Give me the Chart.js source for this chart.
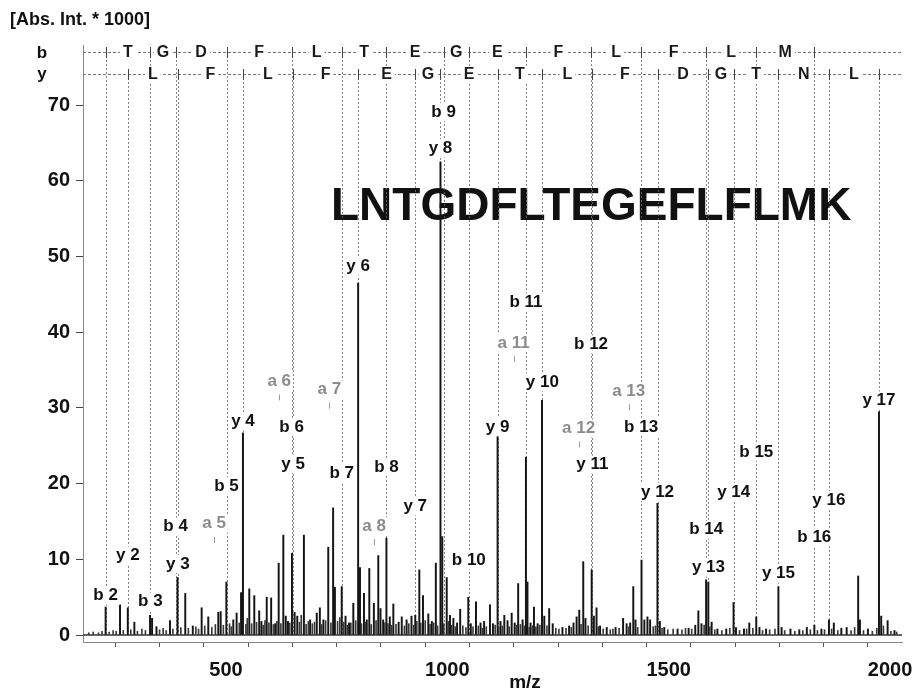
<!DOCTYPE html>
<html><head><meta charset="utf-8">
<script src="https://cdn.jsdelivr.net/npm/chart.js@4.4.1/dist/chart.umd.min.js"></script>
<style>html,body{margin:0;padding:0;background:#fff;}#wrap{width:916px;height:691px;}</style>
</head><body><div id="wrap"><canvas id="c" width="916" height="691"></canvas></div>
<script>
// ---------------- data ----------------
const peptide = 'LNTGDFLTEGEFLFLMK';
const yAxisTitle = '[Abs. Int. * 1000]';
const xAxisTitle = 'm/z';
const yTickValues = [0, 10, 20, 30, 40, 50, 60, 70];
const xTickValues = [200, 300, 400, 500, 600, 700, 800, 900, 1000, 1100, 1200, 1300, 1400, 1500, 1600, 1700, 1800, 1900, 2000];
const xTickLabels = [500, 1000, 1500, 2000];

const bIonNumbers = [2, 3, 4, 5, 6, 7, 8, 9, 10, 11, 12, 13, 14, 15, 16];
const bIonMz = [228.13, 329.18, 386.20, 501.23, 648.30, 761.38, 862.43, 991.47, 1048.49, 1177.54, 1324.61, 1437.69, 1584.76, 1697.84, 1828.88];
const bIonLabelAt = [5.2, 4.4, 14.3, 19.7, 27.5, 21.4, 22.2, 69.1, 9.9, 44.0, 38.4, 27.5, 13.9, 24.2, 12.9];
const bResidues = ['T', 'G', 'D', 'F', 'L', 'T', 'E', 'G', 'E', 'F', 'L', 'F', 'L', 'M'];

const yIonNumbers = [2, 3, 4, 5, 6, 7, 8, 9, 10, 11, 12, 13, 14, 15, 16, 17];
const yIonMz = [278.15, 391.23, 538.30, 651.39, 798.45, 927.50, 984.52, 1113.56, 1214.61, 1327.69, 1474.76, 1589.79, 1646.81, 1747.86, 1861.90, 1974.99];
const yIonLabelAt = [10.5, 9.4, 28.2, 22.6, 48.7, 17.0, 64.3, 27.5, 33.4, 22.5, 18.9, 8.9, 18.9, 8.1, 17.8, 31.0];
const yResidues = ['L', 'F', 'L', 'F', 'E', 'G', 'E', 'T', 'L', 'F', 'D', 'G', 'T', 'N', 'L'];

const aIonNumbers = [5, 6, 7, 8, 11, 12, 13];
const aIonMz = [473.24, 620.31, 733.39, 834.44, 1149.54, 1296.61, 1409.69];
const aIonLabelAt = [14.7, 33.5, 32.4, 14.4, 38.6, 27.3, 32.2];

const peakMz = [228.1, 260.6, 278.2, 293, 328.4, 333, 343, 373.5, 390.5, 408, 425, 445, 460, 482.6, 488, 500.8,
  516.5, 524, 534, 538.3, 552.6, 563.9, 575, 580, 592, 602, 611, 619, 629.5, 635, 640, 649, 655, 661, 676, 690,
  705, 712, 720, 731, 742, 746, 761.4, 770, 778, 787.6, 798.5, 802.7, 811.7, 818, 823.7, 834, 844, 849, 855,
  862.4, 870, 878, 890, 897, 908, 919, 927.5, 936.7, 945, 957, 965, 974, 984.5, 988.5, 998.6, 1006, 1013.6,
  1022, 1029, 1047.3, 1053, 1064.7, 1075, 1083, 1096.3, 1103, 1113.5, 1120, 1128.7, 1136, 1145.3, 1152, 1160,
  1170, 1177.5, 1181, 1188, 1195.7, 1204, 1213.8, 1219, 1230, 1238, 1260, 1275, 1285, 1292, 1298, 1307, 1312,
  1326, 1331, 1337, 1345, 1360, 1380, 1397, 1405, 1413, 1420, 1425, 1438.6, 1445, 1452, 1458, 1474.6, 1480,
  1490, 1520, 1545, 1560, 1567, 1574, 1584.5, 1589.5, 1597, 1610, 1630, 1646.5, 1652, 1670, 1682, 1697.8,
  1705, 1720, 1747.8, 1755, 1775, 1795, 1812, 1829, 1845, 1862, 1873, 1890, 1902, 1928, 1932, 1950, 1975,
  1980, 1994.5, 2010];
const peakInt = [3.7, 4.0, 3.6, 1.7, 2.6, 2.2, 1.1, 1.9, 7.6, 5.5, 1.2, 3.6, 2.4, 3.0, 3.1, 7.0,
  2.0, 2.9, 5.6, 26.7, 6.1, 5.2, 3.2, 1.8, 5.0, 4.9, 1.5, 9.5, 13.2, 2.5, 1.8, 10.8, 3.0, 2.5, 13.2, 2.0,
  2.9, 3.6, 2.0, 11.6, 16.8, 6.3, 6.4, 2.5, 1.6, 4.2, 46.5, 8.9, 5.5, 2.0, 8.8, 4.2, 10.5, 3.5, 2.0,
  12.8, 2.4, 4.1, 1.7, 2.4, 2.0, 2.5, 2.6, 8.6, 5.2, 2.8, 1.8, 9.5, 62.5, 13.0, 7.6, 2.6, 2.2,
  1.6, 3.4, 5.0, 1.5, 4.4, 1.6, 1.8, 4.0, 1.5, 26.2, 1.8, 2.6, 1.9, 2.9, 1.6, 6.8,
  2.0, 23.5, 7.0, 1.6, 3.7, 1.5, 31.0, 2.5, 3.5, 1.5, 1.0, 1.2, 1.6, 2.4, 3.3, 9.7, 2.2,
  8.6, 2.5, 3.6, 1.2, 1.0, 1.0, 2.2, 1.5, 1.6, 6.4, 2.0, 9.9, 2.0, 2.4, 2.0, 17.4, 1.8,
  1.0, 0.8, 0.9, 1.3, 3.2, 1.5, 7.3, 7.0, 1.7, 0.8, 0.8, 4.3, 1.0, 0.8, 1.6, 2.4,
  1.0, 0.8, 6.4, 1.0, 0.8, 0.7, 1.0, 1.3, 0.8, 2.0, 1.6, 0.9, 1.0, 7.8, 2.0, 0.8, 29.5,
  2.5, 1.9, 0.6];

const noiseMz = [190, 200, 212, 220, 236, 245, 252, 268, 285, 300, 310, 318, 350, 358, 365, 380, 398, 415, 432, 438,
  452, 468, 476, 494, 508, 512, 530, 545, 548, 558, 569, 584, 588, 597, 607, 615, 624, 644, 666, 670, 681, 686,
  695, 700, 716, 725, 737, 752, 757, 766, 774, 782, 793, 806, 815, 828, 839, 859, 866, 874, 884, 903, 913, 924,
  931, 940, 950, 961, 969, 978, 992, 1002, 1010, 1018, 1035, 1042, 1058, 1070, 1079, 1088, 1108, 1116, 1124,
  1140, 1156, 1165, 1174, 1185, 1192, 1200, 1209, 1225, 1245, 1252, 1268, 1280, 1302, 1318, 1341, 1352, 1368,
  1374, 1388, 1410, 1430, 1465, 1470, 1485, 1498, 1510, 1530, 1538, 1552, 1580, 1593, 1604, 1620, 1638, 1660,
  1676, 1690, 1712, 1728, 1740, 1762, 1785, 1803, 1820, 1836, 1852, 1868, 1882, 1912, 1920, 1940, 1960, 1970,
  1985, 2002, 2015];
const noiseInt = [0.3, 0.4, 0.3, 0.5, 0.4, 0.6, 0.5, 0.6, 0.7, 0.5, 0.8, 0.6, 0.7, 0.9, 0.6, 0.8, 1.0, 0.9, 1.1, 0.8,
  1.2, 1.0, 1.4, 1.3, 1.5, 1.1, 1.6, 1.4, 2.2, 1.5, 1.7, 1.3, 1.9, 1.6, 1.4, 1.8, 1.5, 1.6, 1.7, 2.6, 1.4, 1.8,
  1.5, 1.7, 1.4, 1.9, 1.6, 1.8, 2.3, 1.7, 1.3, 1.6, 1.9, 1.5, 1.7, 1.4, 1.9, 1.6, 1.5, 1.3, 1.4, 1.2, 1.5, 1.3,
  1.8, 1.6, 1.9, 1.4, 1.6, 1.2, 1.5, 1.8, 1.3, 1.1, 1.2, 1.0, 1.1, 1.2, 0.9, 1.1, 1.3, 1.0, 1.2,
  1.1, 1.3, 1.4, 1.2, 1.0, 1.2, 1.1, 1.3, 1.2, 0.9, 0.8, 0.9, 1.0, 1.4, 1.2, 1.1, 0.8, 0.7,
  0.8, 0.9, 1.1, 1.0, 1.1, 1.2, 0.9, 0.7, 0.8, 0.7, 0.9, 0.8, 1.3, 1.1, 0.7, 0.6, 0.9, 0.6,
  0.8, 0.9, 0.6, 0.7, 0.8, 0.6, 0.5, 0.6, 0.7, 0.6, 0.7, 0.8, 0.6, 0.6, 1.0, 0.6, 0.5, 0.9,
  1.2, 0.5, 0.4];

// ---------------- drawing ----------------
const FONT = '"Liberation Sans", Arial, Helvetica, sans-serif';
const toPts = (xs, ys) => xs.map((v, i) => ({x: v, y: ys[i]}));

function labelBox(ctx, text, px, py, color) {
  const w = ctx.measureText(text).width;
  ctx.fillStyle = '#fff';
  ctx.fillRect(px - w / 2 - 2, py - 9, w + 4, 18);
  ctx.fillStyle = color;
  ctx.fillText(text, px, py);
}

const annot = {
  id: 'annot',
  beforeDatasetsDraw(chart) {
    const {ctx, chartArea: ca, scales: {x, y}} = chart;
    ctx.save();
    // big peptide sequence
    ctx.font = 'bold 46px ' + FONT;
    ctx.fillStyle = '#111';
    ctx.textAlign = 'left';
    ctx.textBaseline = 'middle';
    ctx.fillText(peptide, 331, 207);

    // baseline at zero
    const y0 = y.getPixelForValue(0);
    ctx.strokeStyle = '#333';
    ctx.lineWidth = 1.6;
    ctx.beginPath(); ctx.moveTo(ca.left, y0); ctx.lineTo(ca.right, y0); ctx.stroke();

    const bRow = ca.top + 7, yRow = ca.top + 29;
    // ion marker lines
    ctx.strokeStyle = 'rgba(105,105,105,0.8)';
    ctx.lineWidth = 1;
    ctx.setLineDash([2, 2]);
    const vline = (m, top) => {
      const px = Math.round(x.getPixelForValue(m)) + 0.5;
      ctx.beginPath(); ctx.moveTo(px, top); ctx.lineTo(px, y0); ctx.stroke();
    };
    bIonMz.forEach(m => vline(m, bRow));
    yIonMz.forEach(m => vline(m, yRow));

    // ladder rows
    ctx.strokeStyle = '#777';
    ctx.setLineDash([3, 2]);
    [bRow, yRow].forEach(r => {
      ctx.beginPath(); ctx.moveTo(ca.left, r + 0.5); ctx.lineTo(ca.right, r + 0.5); ctx.stroke();
    });
    ctx.setLineDash([]);
    ctx.font = 'bold 16px ' + FONT;
    ctx.textAlign = 'center';
    const ladder = (mzs, res, r) => {
      res.forEach((t, i) => {
        const px = (x.getPixelForValue(mzs[i]) + x.getPixelForValue(mzs[i + 1])) / 2;
        const w = ctx.measureText(t).width;
        ctx.fillStyle = '#fff';
        ctx.fillRect(px - w / 2 - 3, r - 8, w + 6, 16);
        ctx.fillStyle = '#1a1a1a';
        ctx.fillText(t, px, r + 1);
      });
      ctx.strokeStyle = '#444';
      ctx.lineWidth = 1;
      mzs.forEach(m => {
        const px = Math.round(x.getPixelForValue(m)) + 0.5;
        ctx.beginPath(); ctx.moveTo(px, r - 5); ctx.lineTo(px, r + 6); ctx.stroke();
      });
    };
    ladder(bIonMz, bResidues, bRow);
    ladder(yIonMz, yResidues, yRow);

    // row names
    ctx.font = 'bold 17px ' + FONT;
    ctx.fillStyle = '#111';
    ctx.fillText('b', 42, bRow + 1);
    ctx.fillText('y', 42, yRow);
    ctx.restore();
  },
  afterDatasetsDraw(chart) {
    const {ctx, scales: {x, y}} = chart;
    ctx.save();
    ctx.font = 'bold 17px ' + FONT;
    ctx.textAlign = 'center';
    ctx.textBaseline = 'middle';
    bIonMz.forEach((m, i) => labelBox(ctx, 'b ' + bIonNumbers[i], x.getPixelForValue(m), y.getPixelForValue(bIonLabelAt[i]), '#111'));
    yIonMz.forEach((m, i) => labelBox(ctx, 'y ' + yIonNumbers[i], x.getPixelForValue(m), y.getPixelForValue(yIonLabelAt[i]), '#111'));
    ctx.strokeStyle = '#999';
    ctx.lineWidth = 1;
    aIonMz.forEach((m, i) => {
      const px = x.getPixelForValue(m), py = y.getPixelForValue(aIonLabelAt[i]);
      labelBox(ctx, 'a ' + aIonNumbers[i], px, py, '#8c8c8c');
      ctx.beginPath(); ctx.moveTo(Math.round(px) + 0.5, py + 13); ctx.lineTo(Math.round(px) + 0.5, py + 19); ctx.stroke();
    });
    // titles
    ctx.fillStyle = '#111';
    ctx.font = 'bold 18px ' + FONT;
    ctx.textAlign = 'left';
    ctx.fillText(yAxisTitle, 10, 20);
    ctx.font = 'bold 19px ' + FONT;
    ctx.textAlign = 'center';
    ctx.fillText(xAxisTitle, 525, 683);
    ctx.restore();
  }
};

new Chart(document.getElementById('c'), {
  type: 'bar',
  data: {
    datasets: [
      {label: 'noise', data: toPts(noiseMz, noiseInt), backgroundColor: '#3a3a3a', barThickness: 1, grouped: false},
      {label: 'peaks', data: toPts(peakMz, peakInt), backgroundColor: '#151515', barThickness: 1.3, grouped: false}
    ]
  },
  options: {
    responsive: false,
    animation: false,
    devicePixelRatio: 1,
    layout: {padding: {top: 45, right: 14, left: 0, bottom: 0}},
    plugins: {legend: {display: false}, tooltip: {enabled: false}},
    scales: {
      x: {
        type: 'linear', min: 177, max: 2027, offset: false,
        afterFit: s => { s.height = 49; s.paddingLeft = 0; s.paddingRight = 0; },
        afterBuildTicks: s => { s.ticks = xTickValues.map(v => ({value: v})); },
        grid: {drawOnChartArea: false, drawTicks: true, tickLength: 5, tickColor: '#555'},
        border: {color: '#888', width: 1, dash: [2, 2]},
        ticks: {
          autoSkip: false, maxRotation: 0, padding: 11, color: '#111',
          font: {family: FONT, size: 20, weight: 'bold'},
          callback: v => xTickLabels.includes(v) ? String(v) : ''
        }
      },
      y: {
        type: 'linear', min: -0.92, max: 77.94,
        afterFit: s => { s.width = 83; s.paddingTop = 0; s.paddingBottom = 0; },
        afterBuildTicks: s => { s.ticks = yTickValues.map(v => ({value: v})); },
        grid: {drawOnChartArea: false, drawTicks: true, tickLength: 7, tickColor: '#444'},
        border: {color: '#888', width: 1, dash: [2, 2]},
        ticks: {padding: 6, color: '#111', font: {family: FONT, size: 20, weight: 'bold'}}
      }
    }
  },
  plugins: [annot]
});
</script></body></html>
